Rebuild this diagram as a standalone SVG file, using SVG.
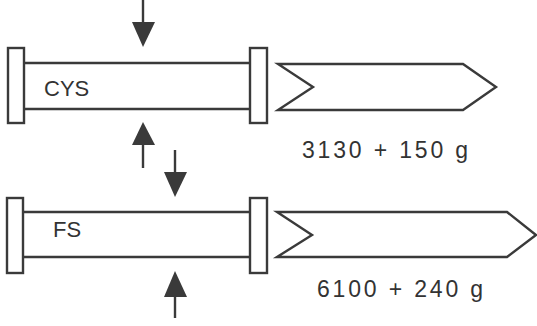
<svg xmlns="http://www.w3.org/2000/svg" width="537" height="326" viewBox="0 0 537 326">
<style>
.ln{stroke:#3a3a3a;stroke-width:2.4;fill:none;stroke-linejoin:miter}
.pl{stroke:#3a3a3a;stroke-width:2.4;fill:#fff}
.hd{fill:#3a3a3a;stroke:none}
.lb{font-family:"Liberation Sans",Arial,sans-serif;fill:#333}
</style>
<rect width="537" height="326" fill="#fff"/>
<g id="beam-cys">
<line class="ln" x1="24" y1="63" x2="249" y2="63"/>
<line class="ln" x1="24" y1="109" x2="249" y2="109"/>
<rect class="pl" x="8" y="48" width="16" height="75"/>
<rect class="pl" x="250" y="48" width="17" height="75"/>
<text class="lb" x="44" y="96" font-size="22">CYS</text>
</g>
<g id="beam-fs">
<line class="ln" x1="24" y1="212" x2="249" y2="212"/>
<line class="ln" x1="24" y1="257" x2="249" y2="257"/>
<rect class="pl" x="7" y="198" width="16" height="75"/>
<rect class="pl" x="250" y="198" width="17" height="75"/>
<text class="lb" x="53" y="237" font-size="22">FS</text>
</g>
<g id="out-cys">
<polygon class="ln" points="278,64 463,64 496,87 463,110 278,110 313,87"/>
<text class="lb" x="302" y="158" font-size="23" textLength="166" lengthAdjust="spacing">3130 + 150 g</text>
</g>
<g id="out-fs">
<polygon class="ln" points="277,212 507,212 536,235 507,257 277,257 312,235"/>
<text class="lb" x="317" y="297" font-size="23" textLength="166" lengthAdjust="spacing">6100 + 240 g</text>
</g>
<g id="connectors">
<line class="ln" x1="143" y1="0" x2="143" y2="24"/>
<polygon class="hd" points="132,22 155,22 143,47"/>
<line class="ln" x1="143" y1="145" x2="143" y2="168"/>
<polygon class="hd" points="132,145 155,145 143,122"/>
<line class="ln" x1="175" y1="150" x2="175" y2="174"/>
<polygon class="hd" points="164,172 187,172 175,197"/>
<line class="ln" x1="175" y1="295" x2="175" y2="318"/>
<polygon class="hd" points="164,297 187,297 175,271"/>
</g>
</svg>
